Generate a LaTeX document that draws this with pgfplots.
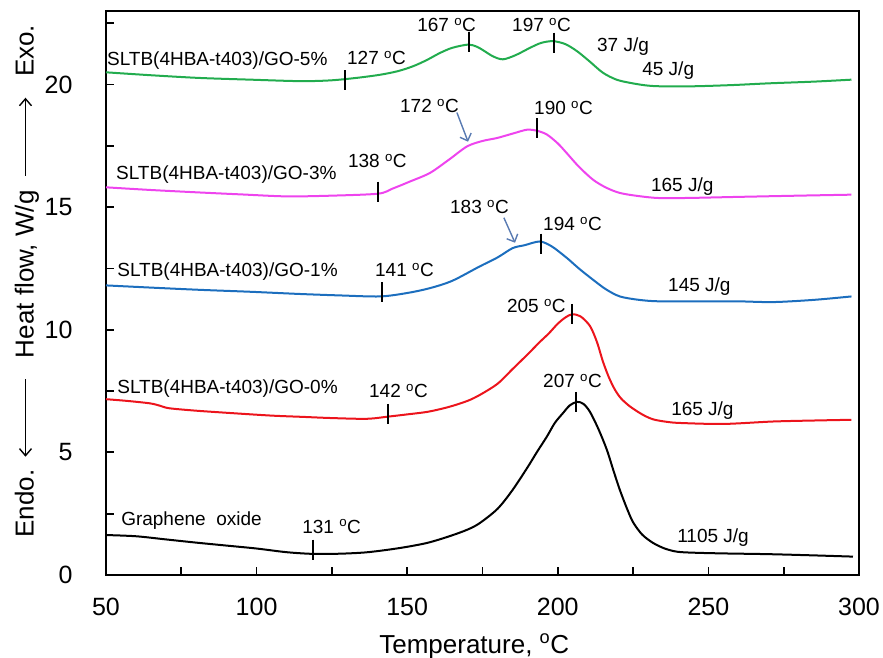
\documentclass[border=0pt]{standalone}
\usepackage{fontspec}
\setmainfont{Liberation Sans}
\usepackage{pgfplots}
\pgfplotsset{compat=1.18}
\usetikzlibrary{arrows.meta}

\definecolor{cgreen}{RGB}{34,172,78}
\definecolor{cmag}{RGB}{238,68,238}
\definecolor{cblue}{RGB}{28,110,190}
\definecolor{cred}{RGB}{236,20,28}
\definecolor{carrow}{RGB}{88,122,178}

\newcommand{\dC}{\textsuperscript{o}C}
\newcommand{\lab}[3]{\node[anchor=base west, inner sep=0pt] at (axis cs:#1,#2) {#3};}
\newcommand{\longarr}[1]{\tikz[baseline=-0.6ex]\draw[line width=1.4pt, #1] (0,0) -- (78pt,0);}

\begin{document}
\begin{tikzpicture}
\useasboundingbox (-106pt,-82pt) rectangle (777pt,575pt);
\begin{axis}[
  at={(0pt,0pt)}, anchor=south west,
  scale only axis, width=753pt, height=564pt,
  xmin=50, xmax=300, ymin=0, ymax=23,
  xtick={50,75,...,300},
  xticklabels={50,,100,,150,,200,,250,,300},
  ytick={0,2.5,...,22.5},
  yticklabels={0,,5,,10,,15,,20,},
  tick align=inside, xtick pos=left, ytick pos=left,
  major tick length=8pt,
  major tick style={black, line width=1.8pt},
  axis line style={line width=1.6pt},
  /pgf/number format/assume math mode=true,
  ticklabel style={font=\fontsize{25}{30}\selectfont},
  xticklabel style={yshift=-20pt},
  yticklabel style={xshift=-30pt},
  xlabel={Temperature, \textsuperscript{o}C},
  xlabel style={font=\fontsize{26}{30}\selectfont, at={(axis description cs:0.489,-0.1383)}, anchor=base},
  ylabel={Endo.\hspace{12pt}\longarr{{Straight Barb[length=7pt,width=12pt]}-}\hspace{20pt}Heat flow, W/g\hspace{14pt}\longarr{-{Straight Barb[length=7pt,width=12pt]}}\hspace{20pt}Exo.},
  ylabel style={font=\fontsize{26}{30}\selectfont, at={(axis description cs:-0.1049,0.521)}, anchor=center},
  every axis plot/.append style={line width=2pt, smooth, tension=0.5},
  nodes={font=\fontsize{19}{22}\selectfont},
]

% Graphene oxide
\addplot[black] coordinates {
(50,1.63) (60,1.58) (70,1.45) (80,1.32) (90,1.2) (100,1.08) (110,0.93) (119,0.86)
(128,0.87) (136,0.92) (143,1.02) (150,1.15) (157,1.32) (164,1.58) (170,1.85)
(174,2.11) (180,2.7) (185,3.47) (190,4.4) (193,5.0) (196.4,5.65) (199,6.2)
(201.7,6.6) (204,6.92) (206.4,7.06) (208.5,6.98) (210.7,6.65) (213.5,5.95)
(216.3,5.1) (218.5,4.25) (220.6,3.47) (223,2.7) (225,2.15) (228,1.65)
(231.6,1.31) (235.5,1.08) (239.6,0.95) (245,0.91) (255,0.88) (270,0.85)
(285,0.8) (298,0.75)
};
% GO-0%
\addplot[cred] coordinates {
(50,7.17) (57,7.1) (64.6,7.0) (68,6.9) (71,6.8) (80,6.7) (92,6.6) (105,6.5)
(115,6.45) (125,6.4) (136.6,6.37) (143.7,6.46) (150,6.55) (157,6.66) (164,6.86)
(170,7.1) (174.2,7.35) (180,7.8) (185,8.4) (190,9.0) (194,9.5) (197,9.85)
(200,10.25) (202.5,10.5) (204.7,10.63) (207.5,10.55) (210.7,10.15) (213,9.5)
(215,8.7) (217,8.05) (219,7.55) (221,7.2) (224,6.87) (228,6.55) (231.6,6.35)
(236,6.25) (240.6,6.2) (255,6.16) (271.5,6.26) (285,6.3) (297.5,6.33)
};
% GO-1%
\addplot[cblue] coordinates {
(50,11.81) (65,11.72) (81,11.63) (98,11.55) (114.4,11.46) (128,11.4) (141,11.36)
(150,11.5) (157.6,11.7) (165,12.0) (174,12.58) (180,12.95) (185,13.33) (189,13.45)
(194,13.6) (198,13.4) (203,12.93) (207,12.5) (211.7,12.04) (216,11.65)
(220.6,11.36) (227,11.22) (234,11.16) (250,11.16) (260,11.16) (271.5,11.13)
(285,11.22) (297.5,11.36)
};
% GO-3%
\addplot[cmag] coordinates {
(50,15.81) (65,15.7) (81,15.6) (95,15.52) (110,15.44) (125,15.47) (140.3,15.55)
(145,15.75) (151,16.05) (157.6,16.4) (164,16.95) (169.9,17.48) (175,17.7)
(179.8,17.82) (185,18.0) (189.8,18.16) (193,18.12) (196.4,17.96) (200,17.6)
(203,17.2) (207,16.65) (211.7,16.12) (216,15.8) (220.6,15.58) (227,15.45)
(234,15.37) (245,15.38) (260,15.42) (280,15.47) (297.5,15.51)
};
% GO-5%
\addplot[cgreen] coordinates {
(50,20.5) (65,20.38) (81,20.27) (98,20.2) (114.4,20.14) (124.4,20.17) (133,20.27)
(141,20.4) (147,20.55) (152,20.75) (156.5,21.0) (160.9,21.29) (165,21.5)
(170.2,21.63) (173,21.55) (175.2,21.4) (178.5,21.15) (181.8,21.03) (186,21.2)
(190.8,21.5) (194.5,21.7) (198.4,21.77) (202.5,21.65) (206.4,21.36) (210.5,20.95)
(215,20.48) (219.5,20.2) (224,20.07) (229,19.97) (233.9,19.93) (245,19.93)
(258,19.98) (270,20.05) (285,20.12) (297.5,20.2)
};

% temperature markers
\addplot[black, only marks, mark=|, mark size=10pt, mark options={line width=1.6pt}] coordinates {
(129.3,20.18) (170.5,21.73) (198.7,21.71)
(140.3,15.63) (193,18.22)
(141.6,11.53) (194.4,13.51)
(143.7,6.57) (204.7,10.65)
(118.7,1.04) (206,7.06)
};

\draw[carrow, line width=1.4pt, -{Straight Barb[length=6pt]}] (axis cs:166.5,18.86) -- (axis cs:170.2,17.67);
\draw[carrow, line width=1.4pt, -{Straight Barb[length=6pt]}] (axis cs:182.1,14.57) -- (axis cs:185.8,13.55);

\lab{50.3}{20.78}{SLTB(4HBA-t403)/GO-5\%}
\lab{130.0}{20.82}{127 \dC}
\lab{153.3}{22.16}{167 \dC}
\lab{184.8}{22.16}{197 \dC}
\lab{213.0}{21.35}{37 J/g}
\lab{228.0}{20.37}{45 J/g}
\lab{147.6}{18.86}{172 \dC}
\lab{192.1}{18.78}{190 \dC}
\lab{53.3}{16.12}{SLTB(4HBA-t403)/GO-3\%}
\lab{130.3}{16.6}{138 \dC}
\lab{230.9}{15.63}{165 J/g}
\lab{164.2}{14.73}{183 \dC}
\lab{195.1}{14.04}{194 \dC}
\lab{53.7}{12.16}{SLTB(4HBA-t403)/GO-1\%}
\lab{139.3}{12.16}{141 \dC}
\lab{236.6}{11.55}{145 J/g}
\lab{183.1}{10.69}{205 \dC}
\lab{53.7}{7.39}{SLTB(4HBA-t403)/GO-0\%}
\lab{137.3}{7.22}{142 \dC}
\lab{195.1}{7.63}{207 \dC}
\lab{237.6}{6.49}{165 J/g}
\lab{55.0}{2.0}{Graphene\ \ oxide}
\lab{115.1}{1.71}{131 \dC}
\lab{239.6}{1.31}{1105 J/g}
\end{axis}
\end{tikzpicture}
\end{document}
